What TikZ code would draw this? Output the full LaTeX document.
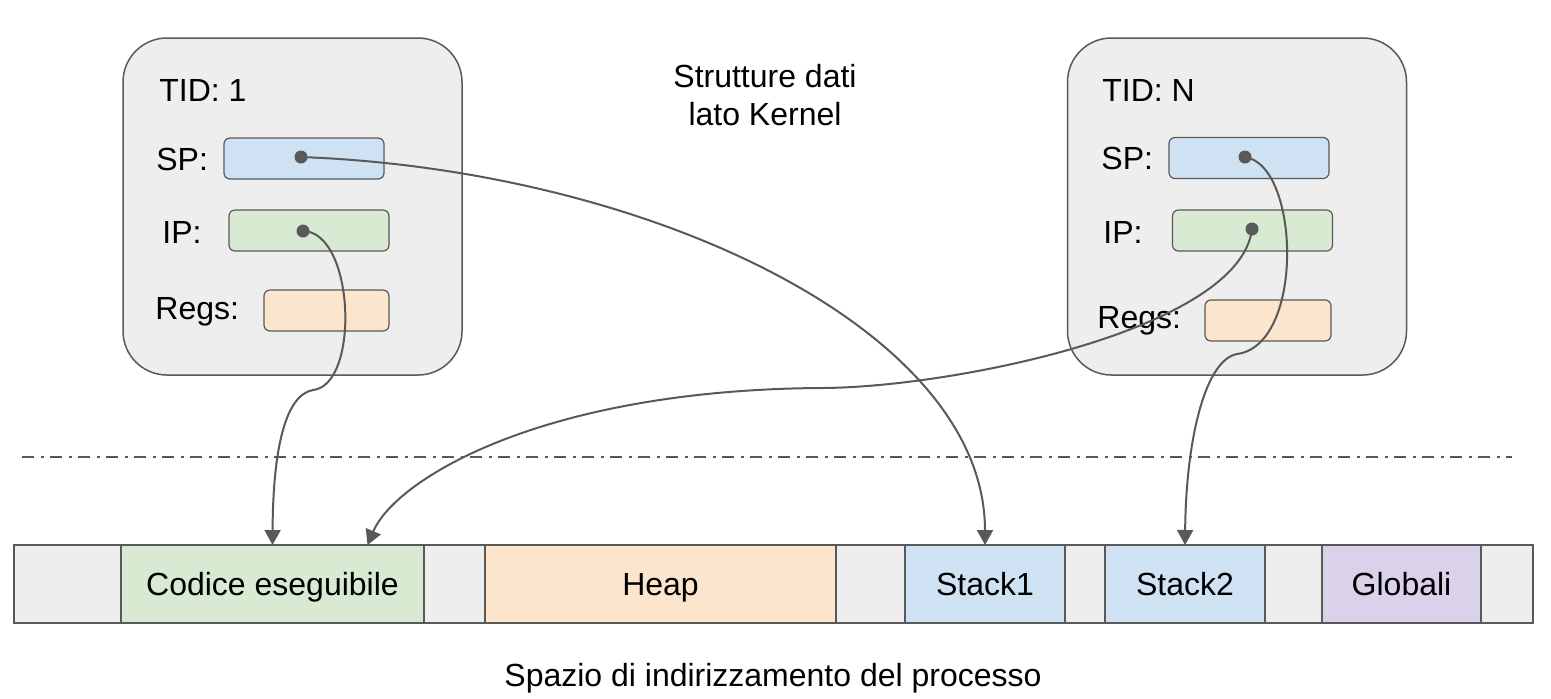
\documentclass[tikz,border=0pt]{standalone}
\usepackage{fontspec}
\setmainfont{Liberation Sans}
\usetikzlibrary{positioning,arrows.meta}
\definecolor{linegray}{HTML}{595959}
\definecolor{boxgray}{HTML}{EEEEEE}
\definecolor{spblue}{HTML}{CFE2F3}
\definecolor{ipgreen}{HTML}{D9EAD3}
\definecolor{regorange}{HTML}{FCE5CD}
\definecolor{globpurple}{HTML}{D9D2E9}

\begin{document}
\begin{tikzpicture}[x=0.5pt, y=-0.5pt, font=\fontsize{16}{19}\selectfont,
      thread/.style={draw=linegray, fill=boxgray, line width=0.75pt, rounded corners=22pt,
         minimum width=169.5pt, minimum height=168.5pt},
      field/.style={draw=linegray, line width=0.6pt, rounded corners=3pt,
         minimum width=80pt, minimum height=20.5pt},
      lbl/.style={anchor=base west, inner sep=0pt},
      seg/.style={draw=linegray, fill=boxgray, line width=0.9pt, minimum height=39pt,
         inner sep=0pt, outer sep=0pt, text height=11.5pt, text depth=0pt},
      dot/.style={circle, fill=linegray, inner sep=0pt, minimum size=6.5pt},
      ptr/.style={draw=linegray, line width=1pt, -{Triangle[width=8pt,length=7.5pt]}}]
      \useasboundingbox (0,0) rectangle (1551,698);

      % thread 1
      \node[thread, name=t1] at (292.5,206.5) {};
      \node[lbl, name=tid1] at (159,101) {TID: 1};
      \node[lbl, name=sp1lbl] at (156,170) {SP:};
      \node[lbl, name=ip1lbl] at (162,243) {IP:};
      \node[lbl, name=reg1lbl] at (155,319) {Regs:};
      \node[field, fill=spblue, name=sp1] at (304,158.5) {};
      \node[field, fill=ipgreen, name=ip1] at (309,230.5) {};
      \node[field, fill=regorange, minimum width=62.5pt, name=reg1] at (326.5,310.5) {};
      \node[dot, name=sp1dot] at (301,157) {};
      \node[dot, name=ip1dot] at (303,231) {};

      % thread N
      \node[thread, name=tN] at (1237,206.5) {};
      \node[lbl, name=tidN] at (1102,101) {TID: N};
      \node[lbl, name=spNlbl] at (1101,169) {SP:};
      \node[lbl, name=ipNlbl] at (1103,243) {IP:};
      \node[lbl, name=regNlbl] at (1097,328) {Regs:};
      \node[field, fill=spblue, name=spN] at (1249,158) {};
      \node[field, fill=ipgreen, name=ipN] at (1252.5,230.5) {};
      \node[field, fill=regorange, minimum width=63pt, name=regN] at (1268,320.5) {};
      \node[dot, name=spNdot] at (1245,157) {};
      \node[dot, name=ipNdot] at (1252,229) {};

      \node[align=center, name=kernel] at (765,95) {Strutture dati\\lato Kernel};

      % separatore
      \coordinate (sepL) at (22,457);
      \coordinate (sepR) at (1512,457);
      \draw[linegray, line width=0.75pt, dash pattern=on 6pt off 3.25pt on 1.5pt off 3.25pt]
         (sepL) -- (sepR);

      % spazio di indirizzamento
      \node[seg, anchor=west, minimum width=53.5pt, name=g0] at (14,584) {};
      \node[seg, right=0pt of g0, minimum width=151.5pt, fill=ipgreen, name=code] {Codice eseguibile};
      \node[seg, right=0pt of code, minimum width=30.5pt, name=g1] {};
      \node[seg, right=0pt of g1, minimum width=175.5pt, fill=regorange, name=heap] {Heap};
      \node[seg, right=0pt of heap, minimum width=34.5pt, name=g2] {};
      \node[seg, right=0pt of g2, minimum width=80pt, fill=spblue, name=stack1] {Stack1};
      \node[seg, right=0pt of stack1, minimum width=20pt, name=g3] {};
      \node[seg, right=0pt of g3, minimum width=80pt, fill=spblue, name=stack2] {Stack2};
      \node[seg, right=0pt of stack2, minimum width=28.5pt, name=g4] {};
      \node[seg, right=0pt of g4, minimum width=79.5pt, fill=globpurple, name=glob] {Globali};
      \node[seg, right=0pt of glob, minimum width=26pt, name=g5] {};

      \node[anchor=base, name=spazio] at (773,686) {Spazio di indirizzamento del processo};

      % puntatori
      \path
         (sp1dot.center) edge[ptr, to path={.. controls (650,170) and (985,330) .. (\tikztotarget)}] (stack1.north)
         (ip1dot.center) edge[ptr, to path={.. controls (355,232) and (360,385) .. (313,390)
            .. controls (285,395) and (273,450) .. (\tikztotarget)}] (code.north)
         (ipNdot.center) edge[ptr, to path={.. controls (1240,330) and (950,388) .. (820,388)
            .. controls (540,390) and (395,480) .. (\tikztotarget)}] ([xshift=47.5pt]code.north)
         (spNdot.center) edge[ptr, to path={.. controls (1300,165) and (1305,345) .. (1237,354)
            .. controls (1205,360) and (1186,440) .. (\tikztotarget)}] (stack2.north);
   \end{tikzpicture}
\end{document}
